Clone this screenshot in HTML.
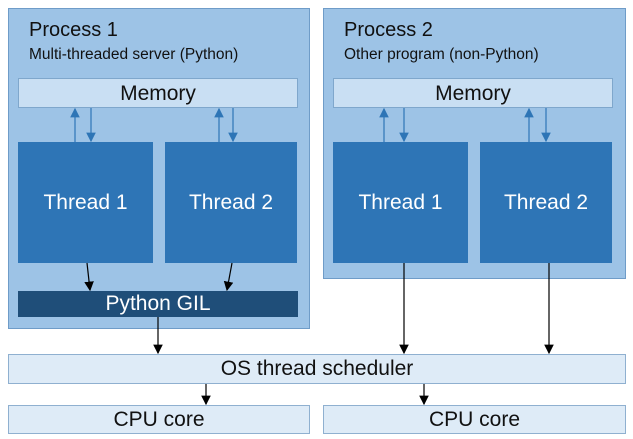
<!DOCTYPE html>
<html><head><style>
body{margin:0;width:633px;height:439px;background:#fff;position:relative;overflow:hidden;font-family:"Liberation Sans",sans-serif}
div{position:absolute;box-sizing:border-box}
.proc{background:#9dc3e6;border:1px solid #6f9cc8}
.mem{background:#c9dff3;border:1px solid #7fa7cc;font-size:21px;text-align:center;line-height:29px;color:#111}
.th{background:#2e75b6;color:#fff;font-size:21px;text-align:center;line-height:121px}
.lt{background:#deebf7;border:1px solid #8fb0d0;font-size:21px;text-align:center;color:#111}
.t1{font-size:20px;color:#111}.t2{font-size:15.5px;color:#111}
</style></head><body>
<div class="proc" style="left:8px;top:8px;width:302px;height:321px"></div>
<div class="proc" style="left:323px;top:8px;width:303px;height:271px"></div>
<div class="t1" style="left:29px;top:19px">Process 1</div>
<div class="t2" style="left:29px;top:46px">Multi-threaded server (Python)</div>
<div class="t1" style="left:344px;top:19px">Process 2</div>
<div class="t2" style="left:344px;top:46px">Other program (non-Python)</div>
<div class="mem" style="left:18px;top:78px;width:280px;height:30px">Memory</div>
<div class="mem" style="left:333px;top:78px;width:280px;height:30px">Memory</div>
<div class="th" style="left:18px;top:142px;width:135px;height:121px">Thread 1</div>
<div class="th" style="left:165px;top:142px;width:132px;height:121px">Thread 2</div>
<div class="th" style="left:333px;top:142px;width:135px;height:121px">Thread 1</div>
<div class="th" style="left:480px;top:142px;width:132px;height:121px">Thread 2</div>
<div style="left:18px;top:291px;width:280px;height:26px;background:#1f4e79;color:#fff;font-size:21px;text-align:center;line-height:25px">Python GIL</div>
<div class="lt" style="left:8px;top:354px;width:618px;height:30px;line-height:28px">OS thread scheduler</div>
<div class="lt" style="left:8px;top:405px;width:302px;height:29px;line-height:27px">CPU core</div>
<div class="lt" style="left:323px;top:405px;width:303px;height:29px;line-height:27px">CPU core</div>
<svg width="633" height="439" style="position:absolute;left:0;top:0">
<defs>
<marker id="a" markerWidth="8" markerHeight="8" refX="7" refY="4" orient="auto"><path d="M0,0L8,4L0,8z" fill="#000"/></marker>
<marker id="b" markerWidth="8" markerHeight="8" refX="7" refY="4" orient="auto"><path d="M0,0L8,4L0,8z" fill="#2e75b6"/></marker>
</defs>
<g stroke="#2e75b6" stroke-width="1.2" marker-end="url(#b)">
<line x1="75" y1="142" x2="75" y2="109"/><line x1="91" y1="108" x2="91" y2="141"/>
<line x1="219" y1="142" x2="219" y2="109"/><line x1="233" y1="108" x2="233" y2="141"/>
<line x1="384" y1="142" x2="384" y2="109"/><line x1="404" y1="108" x2="404" y2="141"/>
<line x1="529" y1="142" x2="529" y2="109"/><line x1="546" y1="108" x2="546" y2="141"/>
</g>
<g stroke="#000" stroke-width="1.2" marker-end="url(#a)">
<line x1="87" y1="263" x2="90" y2="290"/><line x1="232" y1="263" x2="227" y2="290"/>
<line x1="158" y1="317" x2="158" y2="353"/>
<line x1="404" y1="263" x2="404" y2="353"/><line x1="549" y1="263" x2="549" y2="353"/>
<line x1="206" y1="384" x2="206" y2="404"/><line x1="424" y1="384" x2="424" y2="404"/>
</g>
</svg>
</body></html>
